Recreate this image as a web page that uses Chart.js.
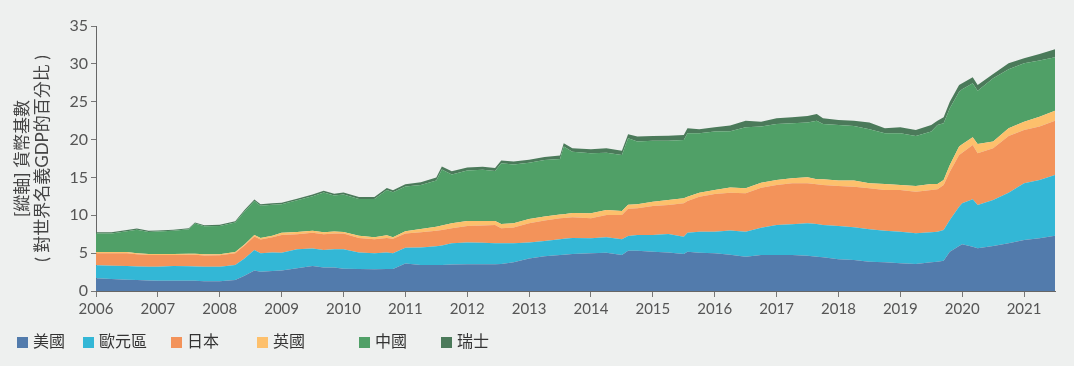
<!DOCTYPE html>
<html>
<head>
<meta charset="utf-8">
<script src="https://cdn.jsdelivr.net/npm/chart.js@4/dist/chart.umd.min.js"></script>
<style>
    body { margin: 0; background: #eef0ef; }
    #wrap { position: relative; width: 1074px; height: 366px; }
    #legend { position: absolute; left: 0; top: 329px; height: 22px; width: 1074px;
        font-family: 'Noto Sans CJK TC', sans-serif; font-size: 16px; color: #333; }
    #legend span { position: absolute; top: 0; line-height: 22px; white-space: nowrap; }
    #legend i { display: inline-block; width: 11px; height: 11px; margin-right: 5px; vertical-align: -1px; }
</style>
</head>
<body>
<div id="wrap">
    <canvas id="chart" width="1074" height="366"></canvas>
    <div id="legend"></div>
</div>
<script>
// time position (year) of each reading
var years = [2006.0, 2006.25, 2006.5, 2006.66, 2006.85, 2007.0, 2007.25, 2007.5, 2007.6, 2007.75,
    2008.0, 2008.25, 2008.4, 2008.56, 2008.66, 2008.85, 2009.0, 2009.25, 2009.5, 2009.68,
    2009.85, 2010.0, 2010.25, 2010.5, 2010.7, 2010.8, 2011.0, 2011.25, 2011.5, 2011.59,
    2011.75, 2012.0, 2012.25, 2012.45, 2012.55, 2012.75, 2013.0, 2013.25, 2013.5, 2013.56,
    2013.7, 2014.0, 2014.25, 2014.5, 2014.6, 2014.75, 2015.0, 2015.25, 2015.5, 2015.56,
    2015.75, 2016.0, 2016.25, 2016.5, 2016.75, 2017.0, 2017.25, 2017.5, 2017.65, 2017.75,
    2018.0, 2018.25, 2018.5, 2018.75, 2019.0, 2019.25, 2019.5, 2019.6, 2019.7, 2019.8,
    2019.95, 2020.0, 2020.17, 2020.25, 2020.5, 2020.75, 2021.0, 2021.25, 2021.5];

var usa = [1.7, 1.6, 1.5, 1.45, 1.4, 1.37, 1.37, 1.37, 1.35, 1.3,
    1.28, 1.46, 2.0, 2.7, 2.55, 2.65, 2.7, 3.0, 3.3, 3.1,
    3.1, 2.95, 2.9, 2.86, 2.9, 2.9, 3.62, 3.45, 3.43, 3.45,
    3.5, 3.52, 3.52, 3.52, 3.55, 3.8, 4.3, 4.6, 4.75, 4.8,
    4.9, 4.98, 5.06, 4.76, 5.33, 5.33, 5.2, 5.1, 4.89, 5.2,
    5.06, 4.98, 4.78, 4.54, 4.76, 4.76, 4.76, 4.67, 4.54, 4.45,
    4.18, 4.1, 3.87, 3.79, 3.65, 3.57, 3.79, 3.85, 4.0, 5.2,
    5.94, 6.16, 5.86, 5.64, 5.94, 6.3, 6.74, 6.96, 7.31];

var euroArea = [1.7, 1.75, 1.8, 1.8, 1.8, 1.83, 1.93, 1.9, 1.9, 1.9,
    1.92, 1.99, 2.3, 2.7, 2.45, 2.45, 2.36, 2.5, 2.3, 2.3,
    2.4, 2.55, 2.2, 2.11, 2.2, 2.1, 2.08, 2.3, 2.47, 2.55,
    2.8, 2.88, 2.86, 2.78, 2.75, 2.5, 2.1, 2.0, 2.1, 2.1,
    2.1, 1.98, 2.03, 2.07, 1.94, 2.07, 2.2, 2.43, 2.29, 2.5,
    2.78, 2.86, 3.2, 3.3, 3.61, 3.96, 4.05, 4.27, 4.31, 4.27,
    4.41, 4.31, 4.28, 4.18, 4.19, 4.05, 3.96, 3.99, 4.06, 4.18,
    5.2, 5.42, 6.25, 5.72, 6.08, 6.69, 7.48, 7.7, 8.01];

var japan = [1.6, 1.65, 1.7, 1.6, 1.55, 1.55, 1.45, 1.51, 1.53, 1.5,
    1.52, 1.55, 1.7, 1.8, 1.8, 2.0, 2.34, 2.0, 2.1, 2.1,
    2.1, 2.1, 1.9, 1.86, 1.9, 1.9, 1.9, 2.0, 2.05, 2.05,
    2.0, 2.19, 2.27, 2.42, 1.98, 2.1, 2.54, 2.7, 2.75, 2.75,
    2.75, 2.64, 2.95, 3.21, 3.58, 3.52, 3.83, 3.83, 4.4, 4.2,
    4.62, 4.97, 5.01, 5.06, 5.28, 5.28, 5.41, 5.28, 5.24, 5.28,
    5.28, 5.37, 5.41, 5.37, 5.5, 5.5, 5.59, 5.59, 5.94, 6.38,
    6.83, 6.69, 7.18, 6.83, 6.83, 7.49, 7.05, 7.05, 7.18];

var uk = [0.15, 0.15, 0.15, 0.15, 0.15, 0.15, 0.15, 0.15, 0.15, 0.15,
    0.15, 0.15, 0.15, 0.2, 0.2, 0.2, 0.3, 0.3, 0.27, 0.25,
    0.25, 0.2, 0.3, 0.27, 0.35, 0.2, 0.3, 0.45, 0.55, 0.6,
    0.65, 0.66, 0.6, 0.53, 0.57, 0.55, 0.57, 0.55, 0.5, 0.5,
    0.55, 0.66, 0.66, 0.53, 0.55, 0.53, 0.57, 0.66, 0.66, 0.56,
    0.53, 0.53, 0.68, 0.66, 0.66, 0.66, 0.66, 0.8, 0.66, 0.75,
    0.71, 0.8, 0.66, 0.79, 0.66, 0.75, 0.79, 0.7, 0.66, 0.88,
    1.1, 1.1, 1.01, 1.23, 0.88, 1.01, 1.1, 1.32, 1.32];

var china = [2.45, 2.45, 2.75, 3.1, 2.9, 2.95, 3.05, 3.22, 3.97, 3.7,
    3.73, 3.9, 4.35, 4.5, 4.25, 4.1, 3.75, 4.2, 4.53, 5.25,
    4.75, 4.95, 4.85, 5.05, 6.0, 5.95, 5.9, 5.8, 6.1, 7.4,
    6.45, 6.65, 6.75, 6.6, 8.01, 7.75, 7.44, 7.45, 7.35, 8.92,
    8.1, 7.93, 7.57, 7.4, 8.77, 8.28, 8.06, 7.84, 7.71, 8.37,
    7.84, 7.71, 7.43, 8.06, 7.4, 7.4, 7.27, 7.22, 7.75, 7.31,
    7.35, 7.22, 7.14, 6.7, 6.83, 6.61, 6.92, 7.8, 7.49, 7.49,
    7.26, 7.27, 7.13, 7.04, 8.36, 7.79, 7.7, 7.4, 7.05];

var swiss = [0.15, 0.15, 0.15, 0.15, 0.15, 0.15, 0.15, 0.15, 0.15, 0.15,
    0.15, 0.15, 0.2, 0.2, 0.2, 0.2, 0.21, 0.2, 0.25, 0.25,
    0.25, 0.25, 0.25, 0.25, 0.25, 0.25, 0.3, 0.35, 0.4, 0.4,
    0.4, 0.4, 0.4, 0.4, 0.39, 0.4, 0.4, 0.4, 0.45, 0.43,
    0.45, 0.52, 0.58, 0.57, 0.53, 0.66, 0.62, 0.66, 0.66, 0.66,
    0.53, 0.57, 0.76, 0.88, 0.66, 0.75, 0.79, 0.88, 0.88, 0.75,
    0.66, 0.7, 0.88, 0.66, 0.79, 0.79, 0.88, 0.57, 0.79, 0.88,
    0.88, 0.79, 0.8, 0.75, 0.58, 0.79, 0.66, 0.88, 1.05];

var seriesNames = ['美國', '歐元區', '日本', '英國', '中國', '瑞士'];
var seriesColors = ['#527bac', '#33b7d6', '#f3935a', '#fdc06c', '#50a067', '#4b7a5a'];
var yTitle = ['[縱軸] 貨幣基數', '( 對世界名義GDP的百分比 )'];

var seriesValues = [usa, euroArea, japan, uk, china, swiss];
var font = "Lato, 'Noto Sans CJK TC', sans-serif";

var datasets = seriesValues.map(function (vals, i) {
    return {
        label: seriesNames[i],
        data: vals.map(function (v, j) { return { x: years[j], y: v }; }),
        backgroundColor: seriesColors[i],
        borderColor: seriesColors[i],
        borderWidth: 0,
        pointRadius: 0,
        tension: 0,
        fill: i === 0 ? 'origin' : '-1'
    };
});

new Chart(document.getElementById('chart'), {
    type: 'line',
    data: { datasets: datasets },
    options: {
        responsive: false,
        animation: false,
        devicePixelRatio: 1,
        layout: { padding: { left: 0, right: 19, top: 26, bottom: 45 } },
        plugins: { legend: { display: false }, tooltip: { enabled: false } },
        scales: {
            x: {
                type: 'linear',
                min: 2006,
                max: 2021.5,
                border: { color: '#666', width: 1 },
                grid: { drawOnChartArea: false, drawTicks: true, tickLength: 6, color: '#777' },
                ticks: {
                    stepSize: 1,
                    includeBounds: false,
                    maxRotation: 0,
                    autoSkip: false,
                    color: '#555',
                    font: { family: font, size: 15 },
                    padding: 3,
                    callback: function (v) { return String(v); }
                },
                afterFit: function (s) { s.height = 30; }
            },
            y: {
                stacked: true,
                min: 0,
                max: 35,
                border: { color: '#666', width: 1 },
                grid: { drawOnChartArea: false, drawTicks: true, tickLength: 5, color: '#777' },
                ticks: {
                    stepSize: 5,
                    color: '#555',
                    font: { family: font, size: 16 },
                    padding: 3
                },
                title: {
                    display: true,
                    text: yTitle,
                    color: '#444',
                    font: { family: font, size: 17, lineHeight: 1.2 },
                    padding: { top: 12, bottom: 0 }
                },
                afterFit: function (s) { s.width = 96; }
            }
        }
    }
});

// legend laid out like the reference (uneven gaps)
var legendLeft = [17, 83, 171, 257, 359, 441];
var legend = document.getElementById('legend');
seriesNames.forEach(function (name, i) {
    var item = document.createElement('span');
    item.style.left = legendLeft[i] + 'px';
    item.innerHTML = '<i style="background:' + seriesColors[i] + '"></i>' + name;
    legend.appendChild(item);
});
</script>
</body>
</html>
